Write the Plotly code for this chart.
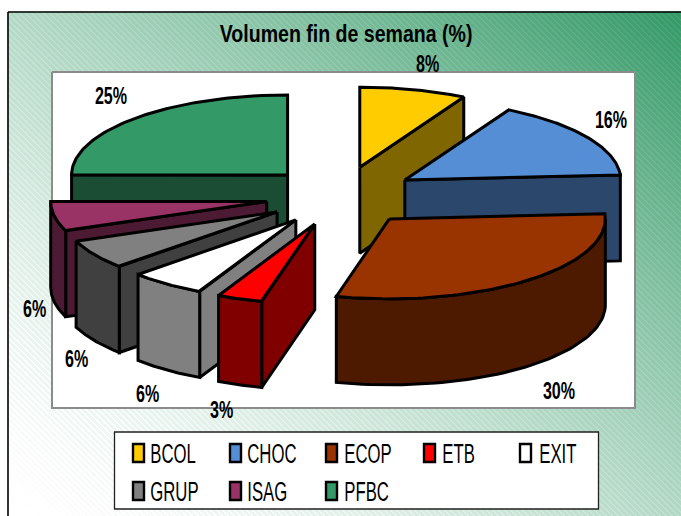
import numpy as np
import plotly.graph_objects as go

TITLE = "Volumen fin de semana (%)"
categories = ["BCOL", "CHOC", "ECOP", "ETB", "EXIT", "GRUP", "ISAG", "PFBC"]
values = [8, 16, 30, 3.4, 5.7, 6, 6, 25]
top_colors = ["#FFCC00", "#558ED5", "#993300", "#FF0000", "#FFFFFF", "#808080", "#993366", "#339966"]
side_colors = ["#806600", "#2B476B", "#4D1A00", "#800000", "#808080", "#404040", "#4D1A33", "#1A4D33"]
label_xy = [(427, 64), (611, 120), (559, 391), (221, 410), (147, 394), (76, 359), (34, 309), (111, 96)]

W, H = 681, 516
CX, CY, RX, RY, DEPTH, EXPLODE_X, EXPLODE_Y = 341, 196, 216, 80, 86, 0.35, 0.372
FONT = "Liberation Sans"
LW = 3

fig = go.Figure()

# background gradient
xs = np.arange(8, W + 1)
ys = np.arange(12, H + 1)
gx, gy = np.meshgrid(xs, ys)
t = (0.5 * (gx - 8) / (W - 8) + 0.5 * (H - gy) / (H - 12)) ** 1.4
stripe = ((gx - gy) % 6 < 1.5).astype(float)
z = np.clip(t - 0.07 * stripe, 0, 1)
fig.add_trace(go.Heatmap(x=xs, y=ys, z=z.astype(np.float32), zmin=0, zmax=1, showscale=False,
                         colorscale=[[0, "#FFFFFF"], [1, "#339966"]], hoverinfo="skip"))


def poly(xv, yv, fill, name):
    fig.add_trace(go.Scatter(x=xv, y=yv, mode="lines", fill="toself", fillcolor=fill,
                             line=dict(color="#000000", width=LW), name=name,
                             hoverinfo="skip", showlegend=False))


# plot area
fig.add_trace(go.Scatter(x=[52, 635, 635, 52, 52], y=[72, 72, 408, 408, 72], mode="lines", fill="toself",
                         fillcolor="#FFFFFF", line=dict(color="#8C8C8C", width=2),
                         hoverinfo="skip", showlegend=False))

# wedges
fractions = np.array(values, dtype=float) / sum(values)
ends = np.cumsum(fractions) * 2 * np.pi
starts = ends - fractions * 2 * np.pi
mids = (starts + ends) / 2
apex_x = CX + EXPLODE_X * RX * np.sin(mids)
apex_y = CY - EXPLODE_Y * RY * np.cos(mids)
for i in np.argsort(apex_y):
    ax_, ay_, a0, a1 = apex_x[i], apex_y[i], starts[i], ends[i]
    px = lambda a: ax_ + RX * np.sin(a)
    py = lambda a: ay_ - RY * np.cos(a)
    # radial faces, painted only when they face the viewer
    for a, visible in ((a0, np.sin(a0) < -1e-6), (a1, np.sin(a1) > 1e-6)):
        if visible:
            poly([ax_, px(a), px(a), ax_, ax_],
                 [ay_, py(a), py(a) + DEPTH, ay_ + DEPTH, ay_], side_colors[i], categories[i])
    # outer rim
    lo, hi = max(a0, np.pi / 2), min(a1, 3 * np.pi / 2)
    if hi > lo:
        arc = np.linspace(lo, hi, 60)
        poly(np.r_[px(arc), px(arc)[::-1], px(arc[0])],
             np.r_[py(arc), py(arc)[::-1] + DEPTH, py(arc[0])], side_colors[i], categories[i])
    # top
    arc = np.linspace(a0, a1, 80)
    poly(np.r_[ax_, px(arc), ax_], np.r_[ay_, py(arc), ay_], top_colors[i], categories[i])

shapes = [
    dict(type="line", x0=8, x1=W, y0=12, y1=12, line=dict(color="#000000", width=1.6)),
    dict(type="line", x0=8, x1=8, y0=12, y1=H, line=dict(color="#000000", width=1.6)),
    dict(type="rect", x0=114.5, x1=598.5, y0=432, y1=509, fillcolor="#FFFFFF", line=dict(color="#202020", width=1.3)),
]
annotations = [dict(x=346, y=33, text="<b>" + TITLE + "</b>", showarrow=False, xanchor="center", yanchor="middle",
                    font=dict(family=FONT, size=24, color="#000000"))]

for (lx, ly), v in zip(label_xy, values):
    annotations.append(dict(x=lx, y=ly, text=f"<b>{round(v)}%</b>", showarrow=False, xanchor="center", yanchor="middle",
                            font=dict(family=FONT, size=23, color="#000000")))

# legend
col_x = [132, 229, 325, 423, 519, 132, 229, 325]
text_x = [149, 246, 343, 441, 538, 149, 246, 343]
row_y = [453, 453, 453, 453, 453, 491, 491, 491]
for i, name in enumerate(categories):
    shapes.append(dict(type="rect", x0=col_x[i] + 1, x1=col_x[i] + 12, y0=row_y[i] - 9, y1=row_y[i] + 9,
                       fillcolor=top_colors[i], line=dict(color="#000000", width=2.4)))
    annotations.append(dict(x=text_x[i], y=row_y[i] + 1, text=name, showarrow=False, xanchor="left", yanchor="middle",
                            font=dict(family=FONT, size=27, color="#000000")))

fig.update_layout(
    width=W, height=H, margin=dict(l=0, r=0, t=0, b=0), paper_bgcolor="#FFFFFF", plot_bgcolor="#FFFFFF",
    xaxis=dict(range=[0, W], visible=False, fixedrange=True),
    yaxis=dict(range=[H, 0], visible=False, fixedrange=True),
    shapes=shapes, annotations=annotations, showlegend=False,
)

# The reference uses a condensed face: squeeze the real text horizontally around its anchor.
NARROW = """
document.body.style.margin='0';document.body.style.overflow='hidden';
document.querySelectorAll('text.annotation-text').forEach(function(t){
  var s=t.textContent, b=t.getBBox(), left=s.indexOf('%')<0, title=s.indexOf('Volumen')>=0;
  var sx=title?253/b.width:(left?0.62:0.70);
  var fx=left?b.x-2:(b.x+b.width/2);
  t.setAttribute('transform','translate('+fx+',0) scale('+sx+',1) translate('+(-fx)+',0)');
});
"""
fig.write_html("out.html", config={"displayModeBar": False}, post_script=NARROW)
